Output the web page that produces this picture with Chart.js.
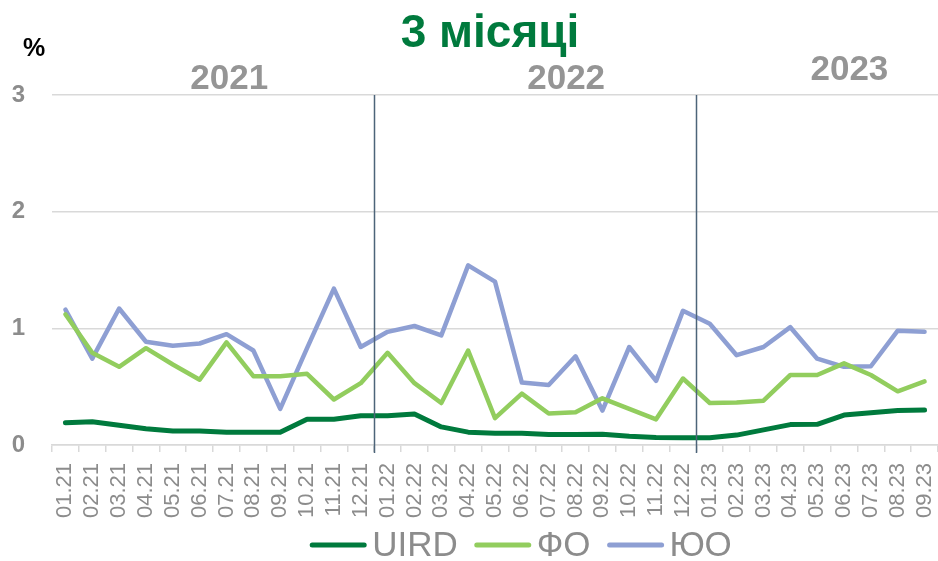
<!DOCTYPE html>
<html>
<head>
<meta charset="utf-8">
<script src="https://cdn.jsdelivr.net/npm/chart.js@4.4.0/dist/chart.umd.min.js"></script>
<style>
html,body{margin:0;padding:0;background:#fff;}
#wrap{width:938px;height:561px;position:relative;}
</style>
</head>
<body>
<div id="wrap"><canvas id="c" width="938" height="561"></canvas></div>
<script>
const categories = ['01.21','02.21','03.21','04.21','05.21','06.21','07.21','08.21','09.21','10.21','11.21','12.21',
  '01.22','02.22','03.22','04.22','05.22','06.22','07.22','08.22','09.22','10.22','11.22','12.22',
  '01.23','02.23','03.23','04.23','05.23','06.23','07.23','08.23','09.23'];
const uird = [0.19,0.20,0.17,0.14,0.12,0.12,0.11,0.11,0.11,0.22,0.22,0.25,
  0.25,0.265,0.155,0.11,0.10,0.10,0.09,0.09,0.093,0.075,0.065,0.062,
  0.062,0.085,0.13,0.175,0.177,0.257,0.277,0.295,0.30];
const fo = [1.12,0.79,0.67,0.83,0.69,0.56,0.88,0.59,0.59,0.61,0.39,0.53,
  0.79,0.53,0.36,0.81,0.23,0.44,0.27,0.28,0.40,0.31,0.22,0.57,
  0.36,0.365,0.38,0.60,0.60,0.70,0.60,0.46,0.545];
const yuo = [1.16,0.74,1.17,0.885,0.85,0.87,0.95,0.81,0.31,0.83,1.34,0.84,
  0.97,1.02,0.94,1.54,1.40,0.535,0.515,0.76,0.295,0.84,0.55,1.15,
  1.04,0.77,0.84,1.01,0.74,0.67,0.675,0.98,0.97];
const seriesNames = ['UIRD','ФО','ЮО'];
const yTicks = [0,1,2,3];
const titleText = '3 місяці';
const unitText = '%';
const yearLabels = ['2021','2022','2023'];

const overlay = {
  id:'overlay',
  afterDraw(chart, args, opts){
    const ctx = chart.ctx, x = chart.scales.x, y = chart.scales.y;
    ctx.save();
    // year separators
    ctx.strokeStyle = '#4d6479';
    ctx.lineWidth = 1.5;
    opts.separators.forEach(i=>{
      const px = Math.round((x.getPixelForValue(i-1)+x.getPixelForValue(i))/2)+0.5;
      ctx.beginPath();
      ctx.moveTo(px, y.getPixelForValue(3));
      ctx.lineTo(px, y.getPixelForValue(0)+8);
      ctx.stroke();
    });
    // year labels
    ctx.fillStyle = '#959595';
    ctx.font = 'bold 35px "Liberation Sans", Arial, sans-serif';
    ctx.textAlign = 'center';
    ctx.textBaseline = 'alphabetic';
    yearLabels.forEach((t,k)=>{
      ctx.fillText(t, x.getPixelForValue(opts.yearPos[k]), opts.yearBase[k]);
    });
    // title
    ctx.fillStyle = '#007A3D';
    ctx.font = 'bold 46px "Liberation Sans", Arial, sans-serif';
    ctx.fillText(titleText, 490, 47);
    // unit
    ctx.fillStyle = '#000';
    ctx.font = 'bold 25px "Liberation Sans", Arial, sans-serif';
    ctx.fillText(unitText, 34, 56);
    // legend
    ctx.font = '35px "Liberation Sans", Arial, sans-serif';
    ctx.textAlign = 'left';
    ctx.textBaseline = 'middle';
    const lineW = 56, gap1 = 6, gap2 = 17;
    const items = chart.data.datasets.map(d=>({t:d.label,c:d.borderColor,w:ctx.measureText(d.label).width}));
    let total = items.reduce((s,it)=>s+lineW+gap1+it.w,0)+gap2*(items.length-1);
    let lx = 521 - total/2;
    const ly = 545;
    items.forEach(it=>{
      ctx.strokeStyle = it.c; ctx.lineWidth = 5; ctx.lineCap='round';
      ctx.beginPath(); ctx.moveTo(lx+2, ly); ctx.lineTo(lx+lineW-2, ly); ctx.stroke();
      ctx.fillStyle = '#8c8c8c';
      ctx.fillText(it.t, lx+lineW+gap1, ly+1);
      lx += lineW+gap1+it.w+gap2;
    });
    ctx.restore();
  }
};

new Chart(document.getElementById('c'), {
  type:'line',
  data:{
    labels:categories,
    datasets:[
      {label:seriesNames[0], data:uird, borderColor:'#007A3D', backgroundColor:'#007A3D', borderWidth:5},
      {label:seriesNames[1], data:fo, borderColor:'#92CD5E', backgroundColor:'#92CD5E', borderWidth:4.5},
      {label:seriesNames[2], data:yuo, borderColor:'#8E9FD3', backgroundColor:'#8E9FD3', borderWidth:4.5}
    ]
  },
  options:{
    responsive:false,
    animation:false,
    layout:{padding:{top:95,right:0,bottom:0,left:0}},
    elements:{point:{radius:0,hoverRadius:0}, line:{tension:0, borderJoinStyle:'round', borderCapStyle:'round'}},
    plugins:{
      legend:{display:false},
      tooltip:{enabled:false},
      overlay:{separators:[12,24], yearPos:[6.1,18.65,29.2], yearBase:[89,89,80]}
    },
    scales:{
      x:{
        type:'category',
        offset:true,
        grid:{display:true, offset:true, drawOnChartArea:false, drawTicks:true, tickLength:7, color:'#d9d9d9', lineWidth:1.5},
        border:{display:true, color:'#d9d9d9', width:1.5},
        ticks:{autoSkip:false, maxRotation:90, minRotation:90, padding:11, color:'#8c8c8c',
          font:{family:'"Liberation Sans", Arial, sans-serif', size:22}},
        afterFit(s){ s.height = 116; s.paddingLeft = 0; s.paddingRight = 0; }
      },
      y:{
        min:0, max:3,
        afterBuildTicks(s){ s.ticks = yTicks.map(v=>({value:v})); },
        grid:{color:'#d9d9d9', lineWidth:1.5, drawTicks:false},
        border:{display:false},
        ticks:{padding:27, color:'#8c8c8c', font:{family:'"Liberation Sans", Arial, sans-serif', size:24, weight:'bold'}},
        afterFit(s){ s.width = 52; s.paddingTop = 0; s.paddingBottom = 0; }
      }
    }
  },
  plugins:[overlay]
});
</script>
</body>
</html>
